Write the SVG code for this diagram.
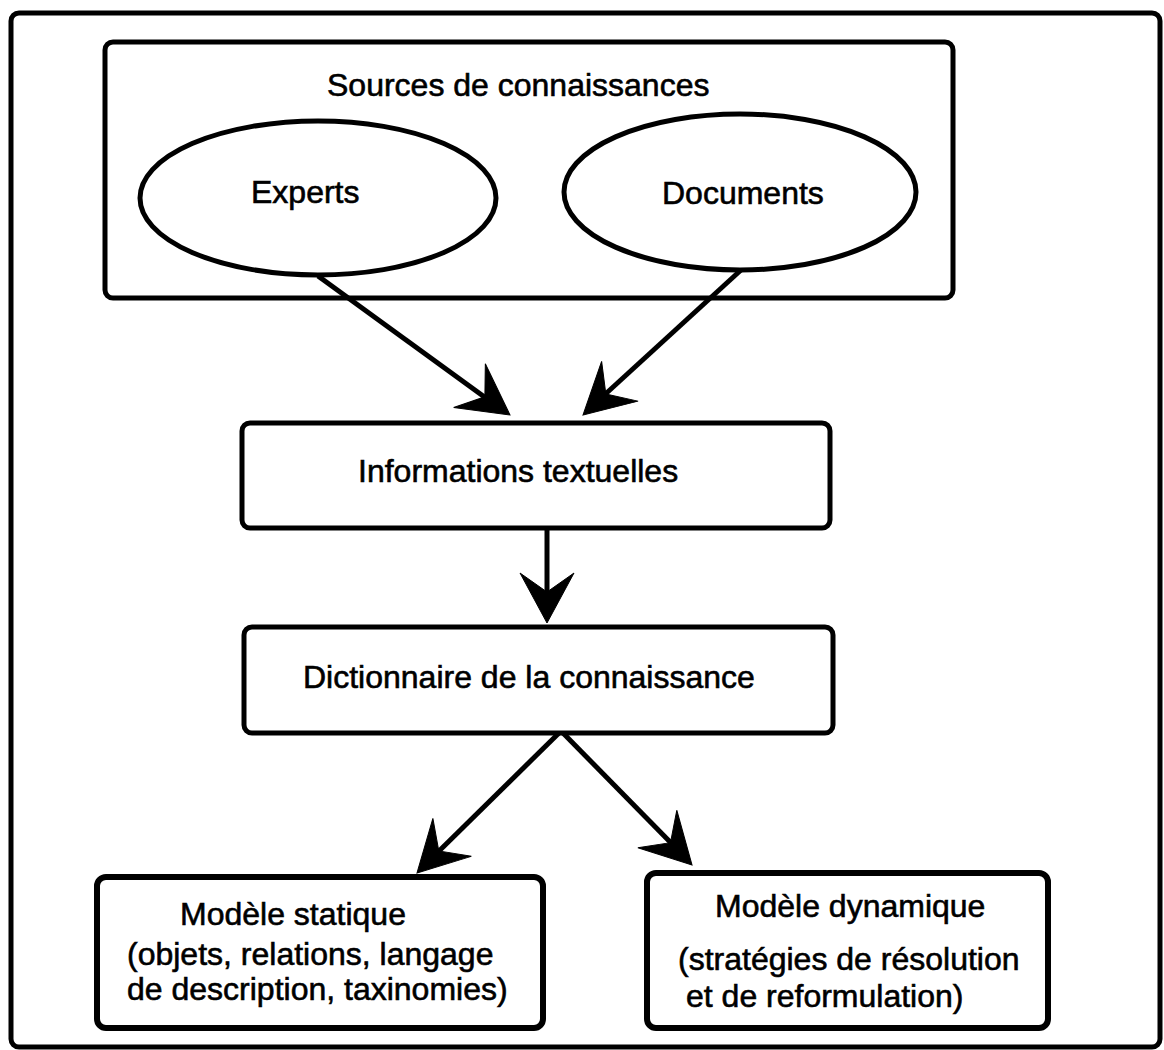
<svg xmlns="http://www.w3.org/2000/svg" xmlns:xlink="http://www.w3.org/1999/xlink" width="1164" height="1050" viewBox="0 0 1164 1050">
<style>
  .lbl { font-family: "Liberation Sans", Arial, Helvetica, sans-serif; font-size: 32px; fill: #000; stroke: #000; stroke-width: 0.6; }
  .box { fill: #fff; stroke: #000; stroke-width: 5; }
  .boxb { fill: #fff; stroke: #000; stroke-width: 6; }
  .conn { stroke: #000; stroke-width: 5; fill: none; }
  .head { fill: #000; stroke: #000; stroke-width: 1; stroke-linejoin: miter; }
</style>
<defs>
  <path id="head" class="head" d="M0,0 L-50,-27 L-31,0 L-50,27 Z"/>
</defs>
<rect x="0" y="0" width="1164" height="1050" fill="#fff"/>
<rect id="frame" x="11" y="13" width="1149" height="1034" rx="8" fill="none" stroke="#000" stroke-width="5"/>

<g id="sources">
  <rect class="box" x="105" y="42" width="848" height="256" rx="8"/>
  <text class="lbl" x="327" y="96">Sources de connaissances</text>
</g>
<g id="experts">
  <ellipse class="box" cx="318" cy="198" rx="178" ry="77"/>
  <text class="lbl" x="251" y="203">Experts</text>
</g>
<g id="documents">
  <ellipse class="box" cx="740" cy="192" rx="176" ry="78"/>
  <text class="lbl" x="662" y="204">Documents</text>
</g>
<g id="informations">
  <rect class="box" x="242" y="423" width="588" height="105" rx="8"/>
  <text class="lbl" x="358" y="482">Informations textuelles</text>
</g>
<g id="dictionnaire">
  <rect class="box" x="244" y="627" width="589" height="106" rx="8"/>
  <text class="lbl" x="303" y="688">Dictionnaire de la connaissance</text>
</g>
<g id="statique">
  <rect class="boxb" x="97" y="877" width="446" height="151" rx="9"/>
  <text class="lbl" x="180" y="925">Modèle statique</text>
  <text class="lbl" x="127" y="965">(objets, relations, langage</text>
  <text class="lbl" x="127" y="1000">de description, taxinomies)</text>
</g>
<g id="dynamique">
  <rect class="boxb" x="647" y="873" width="401" height="155" rx="9"/>
  <text class="lbl" x="715" y="917">Modèle dynamique</text>
  <text class="lbl" x="678" y="970">(stratégies de résolution</text>
  <text class="lbl" x="686" y="1007">et de reformulation)</text>
</g>

<g id="connectors">
  <line class="conn" x1="318" y1="276" x2="490" y2="401"/>
  <use xlink:href="#head" transform="translate(510,415) rotate(35.9)"/>
  <line class="conn" x1="741" y1="270" x2="600" y2="399"/>
  <use xlink:href="#head" transform="translate(583,415) rotate(137.5)"/>
  <line class="conn" x1="547" y1="528" x2="547" y2="600"/>
  <use xlink:href="#head" transform="translate(547,623) rotate(90)"/>
  <line class="conn" x1="559" y1="733" x2="434" y2="856"/>
  <use xlink:href="#head" transform="translate(417,873) rotate(134.6)"/>
  <line class="conn" x1="563" y1="733" x2="676" y2="848"/>
  <use xlink:href="#head" transform="translate(692,865) rotate(46.1)"/>
</g>
</svg>
